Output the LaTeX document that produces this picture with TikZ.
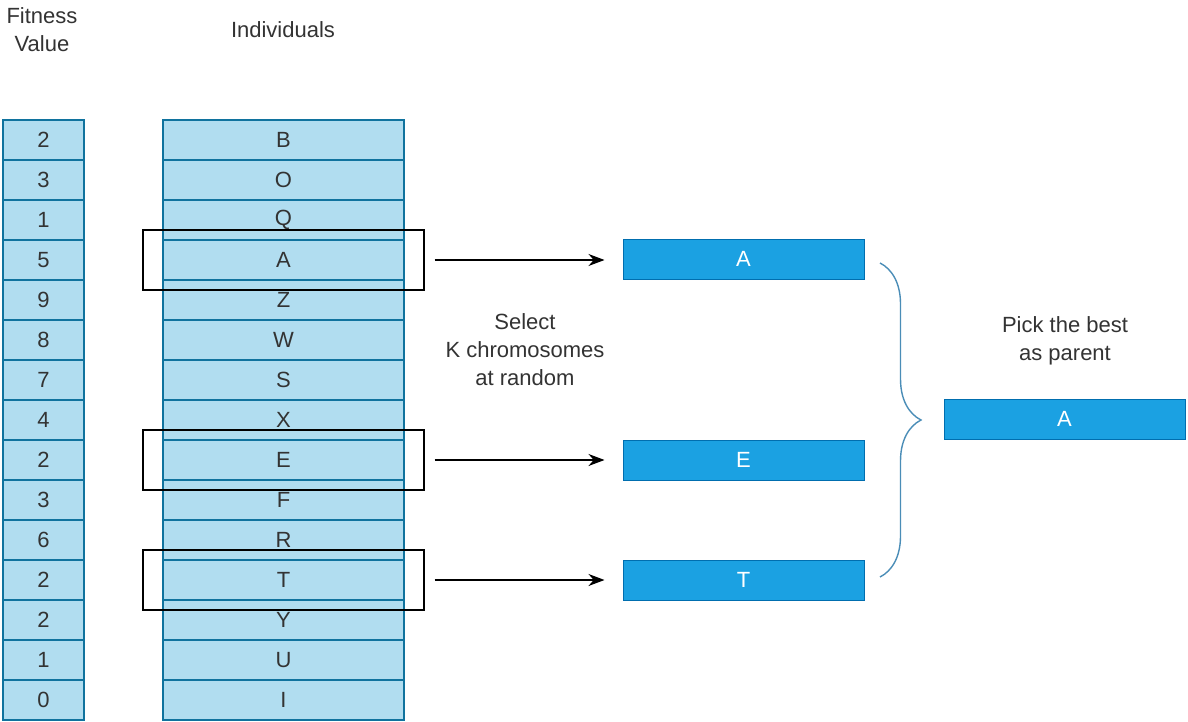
\documentclass[tikz,border=0pt]{standalone}
\usepackage{fontspec}
\setmainfont{Liberation Sans}
\usetikzlibrary{arrows.meta,decorations.pathreplacing}
\definecolor{cellfill}{HTML}{B1DDF0}
\definecolor{cellborder}{HTML}{10739E}
\definecolor{boxfill}{HTML}{1BA1E2}
\definecolor{boxborder}{HTML}{006EAF}
\definecolor{txt}{HTML}{333333}
\definecolor{bracecol}{HTML}{4A8DB7}
\newcommand{\fsz}{\fontsize{22pt}{28pt}\selectfont}
\begin{document}
\begin{tikzpicture}[x=1pt,y=-1pt,
  cell/.style={draw=cellborder, fill=cellfill, line width=1.3pt, minimum height=40pt, inner sep=0pt, text=txt, font=\fsz},
  fitcell/.style={cell, minimum width=81pt},
  indcell/.style={cell, minimum width=241pt},
  selbox/.style={draw=black, line width=1.4pt, minimum width=281pt, minimum height=60pt, inner sep=0pt},
  bluebox/.style={draw=boxborder, fill=boxfill, line width=1pt, minimum width=241pt, minimum height=40pt, inner sep=0pt, text=white, font=\fsz},
  label/.style={text=txt, font=\fsz, align=center, inner sep=0pt},
  arr/.style={-{Stealth[length=16pt,width=12pt]}, line width=1.4pt, shorten <=10pt, shorten >=18pt}
]
\useasboundingbox (0,0) rectangle (1188,722);
\fill[white] (0,0) rectangle (1188,722);

\node[label] (fitlbl) at (42,30) {Fitness\\Value};
\node[label] (indlbl) at (283,30) {Individuals};

\foreach \f/\c [count=\i from 0] in {2/B,3/O,1/Q,5/A,9/Z,8/W,7/S,4/X,2/E,3/F,6/R,2/T,2/Y,1/U,0/I}{
  \node[fitcell] (f\i) at (43.5,{140+40*\i}) {\f};
  \node[indcell] (c\i) at (283.5,{140+40*\i}) {\c};
}

\node[selbox] (selA) at (283.5,260) {};
\node[selbox] (selE) at (283.5,460) {};
\node[selbox] (selT) at (283.5,580) {};

\node[bluebox] (bA) at (743.5,259) {A};
\node[bluebox] (bE) at (743.5,460) {E};
\node[bluebox] (bT) at (743.5,580) {T};

\draw[arr] (selA.east) -- (selA.east -| bA.west);
\draw[arr] (selE.east) -- (bE.west);
\draw[arr] (selT.east) -- (bT.west);

\node[label] (seltxt) at (525,350) {Select\\K chromosomes\\at random};

\coordinate (brTop) at (880,263);
\coordinate (brBot) at (880,577);
\draw[bracecol, line width=1.4pt, decorate, decoration={brace, amplitude=41pt, aspect=0.5}] (brTop) -- (brBot);

\node[label] (picktxt) at (1065,341) {Pick the best\\as parent};
\node[bluebox] (best) at (1064.5,419) {A};
\end{tikzpicture}
\end{document}
